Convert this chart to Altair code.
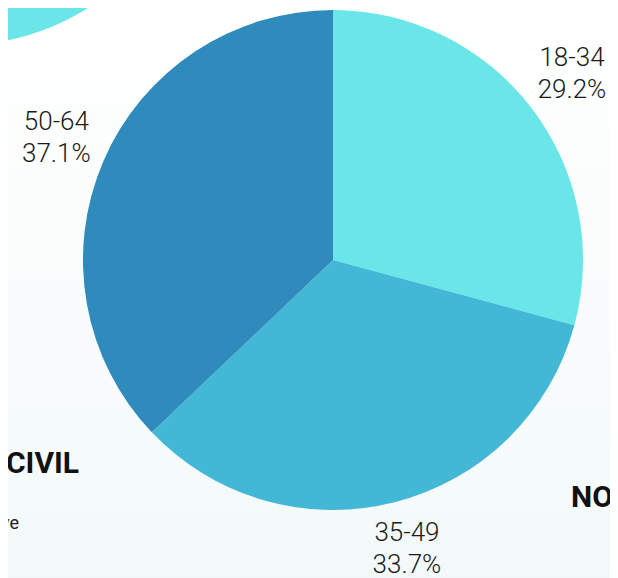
import altair as alt
import pandas as pd

ages = ["18-34", "35-49", "50-64"]
shares = [29.2, 33.7, 37.1]
colors = ["#6ae6e9", "#43b7d6", "#2e8bbb"]

df = pd.DataFrame({
    "age": ages,
    "share": shares,
    "order": list(range(len(ages))),
    "label": [f"{a}\n{s:.1f}%" for a, s in zip(ages, shares)],
})

W, H = 602, 570
CX, CY = 325, 252

color_scale = alt.Scale(domain=ages, range=colors)

bg = alt.Chart(pd.DataFrame({"k": [0]})).mark_rect(
    color=alt.Gradient(
        gradient="linear",
        stops=[alt.GradientStop(color="#ffffff", offset=0),
               alt.GradientStop(color="#f3f9f9", offset=1)],
        x1=0, x2=0, y1=0, y2=1,
    )
).encode(x=alt.value(0), x2=alt.value(W), y=alt.value(0), y2=alt.value(H))

deco = alt.Chart(pd.DataFrame({"k": [0]})).mark_arc(
    color=colors[0], outerRadius=240, theta=0, theta2=6.2832
).encode(x=alt.value(-48), y=alt.value(-203))

base = alt.Chart(df).encode(
    theta=alt.Theta("share:Q", stack=True),
    order=alt.Order("order:Q"),
)

pie = base.mark_arc(outerRadius=250).encode(
    color=alt.Color("age:N", scale=color_scale, legend=None),
    x=alt.value(CX), y=alt.value(CY),
)

labels = base.mark_text(
    radius=301, fontSize=26, font="Roboto", fontWeight=300, color="#1a1a1a",
    lineBreak="\n", lineHeight=32, align="center", baseline="middle", dy=-19,
).encode(text="label:N", x=alt.value(CX), y=alt.value(CY))

civil = alt.Chart(pd.DataFrame({"t": ["CIVIL"]})).mark_text(
    fontSize=30, fontWeight="bold", font="Roboto", color="#111111",
    align="right", baseline="middle",
).encode(text="t:N", x=alt.value(71), y=alt.value(456))

ve = alt.Chart(pd.DataFrame({"t": ["ve"]})).mark_text(
    fontSize=18, font="Roboto", color="#222222",
    align="right", baseline="middle",
).encode(text="t:N", x=alt.value(11), y=alt.value(516))

no = alt.Chart(pd.DataFrame({"t": ["NO"]})).mark_text(
    fontSize=30, fontWeight="bold", font="Roboto", color="#111111",
    align="left", baseline="middle",
).encode(text="t:N", x=alt.value(563), y=alt.value(490))

chart = alt.layer(bg, deco, pie, labels, civil, ve, no).properties(
    width=W, height=H, padding=0, autosize="none", background="#ffffff"
).configure_view(stroke=None)

chart.save("out.html", embed_options={"renderer": "svg", "actions": False})
